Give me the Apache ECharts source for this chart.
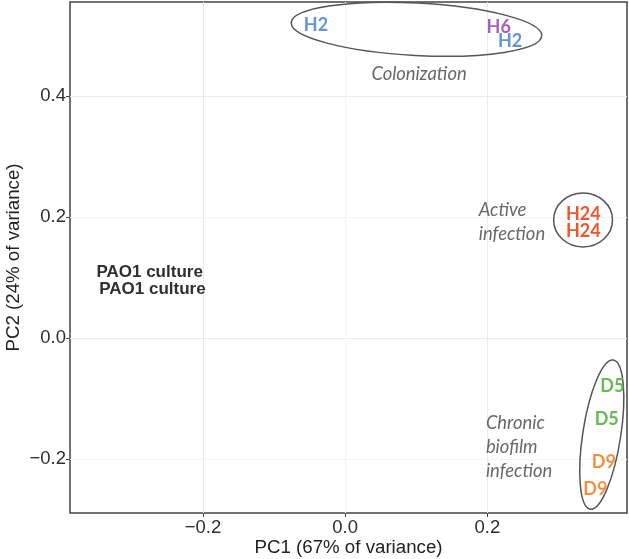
<!DOCTYPE html>
<html>
<head>
<meta charset="utf-8">
<script src="https://cdn.jsdelivr.net/npm/echarts@6/dist/echarts.min.js"></script>
<style>
  html, body { margin: 0; padding: 0; background: #fff; }
  #chart { width: 629px; height: 559px; }
</style>
</head>
<body>
<div id="chart"></div>
<script>
// samples (text labels drawn at their PCA scores)
const sampleNames = ['H2', 'H6', 'H2', 'H24', 'H24', 'D5', 'D5', 'D9', 'D9', 'PAO1 culture', 'PAO1 culture'];
const sampleGroup = ['H2', 'H6', 'H2', 'H24', 'H24', 'D5', 'D5', 'D9', 'D9', 'PAO1', 'PAO1'];
const pc1 = [-0.041, 0.216, 0.232, 0.335, 0.335, 0.376, 0.368, 0.364, 0.352, -0.275, -0.271];
const pc2 = [0.516, 0.514, 0.491, 0.205, 0.177, -0.079, -0.134, -0.205, -0.250, 0.109, 0.081];
const groupColors = {
  H2: '#6394d4', H6: '#ab5fbd', H24: '#f0552f',
  D5: '#66ba50', D9: '#f78e3e', PAO1: '#303030'
};

// stage annotations
const annoText = ['Colonization', 'Active\ninfection', 'Chronic\nbiofilm\ninfection'];
const annoX = [0.104, 0.188, 0.198];
const annoY = [0.436, 0.192, -0.180];
const annoAlign = ['center', 'left', 'left'];

// ellipses: centre, half-widths (data units), tilt in degrees
const ellCx = [0.1004, 0.3347, 0.361];
const ellCy = [0.510, 0.195, -0.1595];
const ellRx = [0.1764, 0.0414, 0.0267];
const ellRy = [0.0433, 0.0446, 0.1246];
const ellTilt = [-3, 0, -8.8];

// axes
const xMin = -0.387, xMax = 0.3965;
const yMin = -0.289, yMax = 0.555;
const xTicks = [-0.2, 0, 0.2];
const yTicks = [-0.2, 0, 0.2, 0.4];

const fmt = v => (v < 0 ? '\u2212' : '') + Math.abs(v).toFixed(1);

const chart = echarts.init(document.getElementById('chart'));

chart.setOption({
  animation: false,
  backgroundColor: '#fff',
  grid: {
    left: 70, right: 2, top: 2, bottom: 46,
    outerBoundsMode: 'none', containLabel: false,
    show: true, borderColor: '#444', borderWidth: 1.5, backgroundColor: 'transparent'
  },
  xAxis: {
    type: 'value', min: xMin, max: xMax,
    minInterval: 0.1, maxInterval: 0.1,
    name: 'PC1 (67% of variance)', nameLocation: 'middle', nameGap: 25,
    nameMoveOverlap: false,
    nameTextStyle: { fontFamily: 'Liberation Sans', fontSize: 18.7, color: '#222' },
    axisLine: { show: false, onZero: false },
    axisTick: { show: true, customValues: xTicks, length: 4, lineStyle: { color: '#444' } },
    axisLabel: {
      customValues: xTicks, formatter: fmt, margin: 5,
      fontFamily: 'Liberation Sans', fontSize: 18.5, color: '#2e2e2e'
    },
    splitLine: { show: true, lineStyle: { color: ['#ebebeb', '#f3f3f3'], width: 1 } }
  },
  yAxis: {
    type: 'value', min: yMin, max: yMax,
    minInterval: 0.1, maxInterval: 0.1,
    name: 'PC2 (24% of variance)', nameLocation: 'middle', nameGap: 47,
    nameMoveOverlap: false,
    nameTextStyle: { fontFamily: 'Liberation Sans', fontSize: 18.7, color: '#222' },
    axisLine: { show: false, onZero: false },
    axisTick: { show: true, customValues: yTicks, length: 4, lineStyle: { color: '#444' } },
    axisLabel: {
      customValues: yTicks, formatter: fmt, margin: 4,
      fontFamily: 'Liberation Sans', fontSize: 18.5, color: '#2e2e2e'
    },
    splitLine: { show: true, lineStyle: { color: ['#f3f3f3', '#ebebeb'], width: 1 } }
  },
  series: [
    {
      type: 'custom',
      silent: true,
      encode: { x: 0, y: 1 },
      data: ellCx.map((c, i) => [c, ellCy[i], ellRx[i], ellRy[i], ellTilt[i]]),
      renderItem: (params, api) => {
        const c = api.coord([api.value(0), api.value(1)]);
        const s = api.size([api.value(2), api.value(3)]);
        return {
          type: 'ellipse',
          x: c[0], y: c[1],
          rotation: api.value(4) * Math.PI / 180,
          shape: { cx: 0, cy: 0, rx: s[0], ry: s[1] },
          style: { fill: 'none', stroke: '#555', lineWidth: 1.5 }
        };
      },
      z: 1
    },
    {
      type: 'scatter',
      silent: true,
      symbolSize: 0,
      itemStyle: { opacity: 1 },
      data: annoText.map((t, i) => ({
        name: t,
        value: [annoX[i], annoY[i]],
        label: {
          position: annoAlign[i] === 'left' ? 'right' : 'inside',
          distance: 0,
          align: annoAlign[i]
        }
      })),
      label: {
        show: true,
        opacity: 1,
        formatter: p => p.name,
        fontFamily: 'Lato', fontStyle: 'italic', fontSize: 18.4,
        lineHeight: 24, color: '#686868', verticalAlign: 'middle'
      },
      z: 2
    },
    {
      type: 'scatter',
      silent: true,
      symbolSize: 0,
      itemStyle: { opacity: 1 },
      data: sampleNames.map((n, i) => ({
        name: n,
        value: [pc1[i], pc2[i]],
        label: sampleGroup[i] === 'PAO1'
          ? { color: groupColors.PAO1, fontFamily: 'Liberation Sans', fontSize: 17 }
          : { color: groupColors[sampleGroup[i]] }
      })),
      label: {
        show: true,
        opacity: 1,
        position: 'inside',
        formatter: p => p.name,
        fontFamily: 'Lato', fontWeight: 'bold', fontSize: 18
      },
      z: 3
    }
  ]
});
</script>
</body>
</html>
